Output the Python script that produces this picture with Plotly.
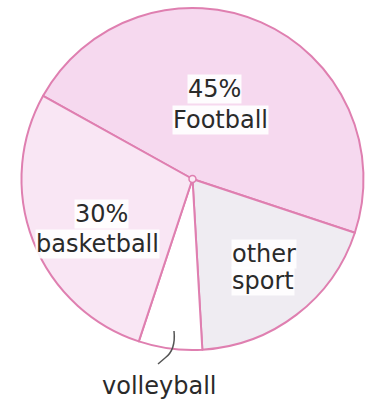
import plotly.graph_objects as go

W, H = 367, 404

# Data (clockwise order starting at upper-left boundary)
labels = ["Football", "other sport", "volleyball", "basketball"]
values = [47, 19, 6, 28]
colors = ["#f6d9ef", "#efecf2", "#ffffff", "#f9e6f4"]

# Text labels shown on the chart
text_lines = ["45%", "Football", "30%", "basketball", "other", "sport", "volleyball"]

cx, cy, r = 192.5, 179, 171

def px(x):
    return x / W

def py(y):
    return 1 - y / H

fig = go.Figure(go.Pie(
    labels=labels,
    values=values,
    sort=False,
    direction="clockwise",
    rotation=-60.9,
    marker=dict(colors=colors, line=dict(color="#df7fb0", width=2)),
    textinfo="none",
    hoverinfo="label+percent",
    showlegend=False,
    domain=dict(x=[px(cx - r), px(cx + r)], y=[py(cy + r), py(cy - r)]),
))

positions = [(214.5, 89), (220, 120), (101.5, 214), (97, 244), (264, 254), (262.5, 281), (158.5, 386)]
for t, (x, y) in zip(text_lines, positions):
    fig.add_annotation(
        x=px(x), y=py(y), xref="paper", yref="paper",
        text=t, showarrow=False,
        font=dict(family="DejaVu Sans", size=24, color="#2a2a2a"),
        bgcolor="rgba(255,255,255,0.9)", borderpad=0,
        xanchor="center", yanchor="middle",
    )

# leader line for volleyball
fig.add_shape(
    type="path",
    xref="paper", yref="paper",
    path=f"M {px(174)} {py(331)} Q {px(176)} {py(350)} {px(165)} {py(358)} L {px(158)} {py(364)}",
    line=dict(color="#555555", width=1.5),
)
# center dot
fig.add_shape(
    type="circle", xref="paper", yref="paper",
    x0=px(cx - 3.5), x1=px(cx + 3.5), y0=py(cy + 3.5), y1=py(cy - 3.5),
    line=dict(color="#df7fb0", width=1.5), fillcolor="#fbeaf5",
)

fig.update_layout(
    width=W, height=H,
    margin=dict(l=0, r=0, t=0, b=0),
    paper_bgcolor="white",
    plot_bgcolor="white",
)

fig.write_html("out.html")
